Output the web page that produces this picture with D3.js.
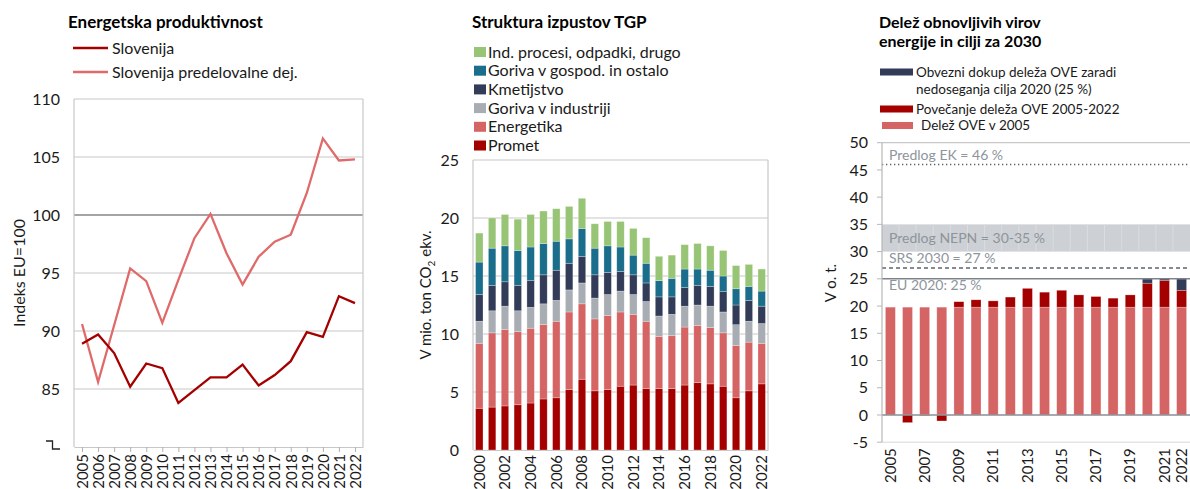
<!DOCTYPE html>
<html><head><meta charset="utf-8">
<script src="https://cdn.jsdelivr.net/npm/d3@7"></script>
<style>
body{margin:0;background:#fff;}
svg{display:block;font-family:Lato,"Open Sans",sans-serif;}
</style></head><body>
<svg id="c" width="1190" height="489"></svg>
<script>
// ---------- DATA ----------
// Chart 1: Energetska produktivnost
const years1 = [2005,2006,2007,2008,2009,2010,2011,2012,2013,2014,2015,2016,2017,2018,2019,2020,2021,2022];
const slovenija = [88.9,89.7,88.1,85.2,87.2,86.8,83.8,84.9,86.0,86.0,87.1,85.3,86.2,87.4,89.9,89.5,93.0,92.4];
const slovenijaPred = [90.6,85.6,90.5,95.4,94.3,90.7,94.4,98.0,100.1,96.7,94.0,96.4,97.7,98.3,101.9,106.6,104.7,104.8];
const yTicks1 = [85,90,95,100,105,110];
const seriesNames1 = ["Slovenija","Slovenija predelovalne dej."];

// Chart 2: Struktura izpustov TGP
const years2 = [2000,2001,2002,2003,2004,2005,2006,2007,2008,2009,2010,2011,2012,2013,2014,2015,2016,2017,2018,2019,2020,2021,2022];
const promet      = [3.6,3.7,3.8,3.9,4.05,4.4,4.5,5.2,6.1,5.1,5.2,5.5,5.6,5.3,5.3,5.3,5.6,5.8,5.7,5.5,4.5,5.1,5.7];
const energetika  = [5.6,6.4,6.6,6.3,6.45,6.4,6.6,6.7,6.5,6.2,6.4,6.4,6.1,5.8,4.5,4.55,5.0,4.95,4.85,4.6,4.5,4.2,3.5];
const gorivaInd   = [1.9,1.9,2.0,1.8,1.8,1.8,1.8,1.9,1.8,1.8,1.8,1.8,1.7,1.7,1.75,1.85,1.8,1.75,1.85,1.8,1.8,1.8,1.7];
const kmetijstvo  = [2.3,2.2,2.1,2.2,2.3,2.5,2.6,2.3,2.3,2.0,1.9,1.7,1.7,1.6,1.65,1.5,1.6,1.7,1.7,1.75,1.7,1.8,1.5];
const gorivaGosp  = [2.8,3.2,3.1,3.0,2.9,2.7,2.5,2.1,2.4,2.3,2.3,2.1,1.7,1.7,1.4,1.6,1.6,1.4,1.4,1.35,1.4,1.2,1.3];
const indProcesi  = [2.5,2.6,2.7,2.7,2.8,2.8,2.8,2.8,2.6,2.1,2.1,2.2,2.3,2.2,2.1,2.0,2.1,2.2,2.1,2.2,2.0,1.9,1.9];
const yTicks2 = [0,5,10,15,20,25];
const xLabels2 = [2000,2002,2004,2006,2008,2010,2012,2014,2016,2018,2020,2022];
const keys2 = ["promet","energetika","gorivaInd","kmetijstvo","gorivaGosp","indProcesi"];
const legend2 = ["Ind. procesi, odpadki, drugo","Goriva v gospod. in ostalo","Kmetijstvo","Goriva v industriji","Energetika","Promet"];

// Chart 3: Delež OVE
const years3 = [2005,2006,2007,2008,2009,2010,2011,2012,2013,2014,2015,2016,2017,2018,2019,2020,2021,2022];
const delez2005 = [19.8,19.8,19.8,19.8,19.8,19.8,19.8,19.8,19.8,19.8,19.8,19.8,19.8,19.8,19.8,19.8,19.8,19.8];
const povecanje = [0,-1.4,-0.1,-1.1,1.0,1.35,1.15,1.85,3.45,2.75,3.1,2.25,1.95,1.65,2.25,4.4,4.9,3.1];
const dokup     = [0,0,0,0,0,0,0,0,0,0,0,0,0,0,0,0.8,0.3,2.1];
const yTicks3 = [-5,0,5,10,15,20,25,30,35,40,45,50];
const xLabels3 = [2005,2007,2009,2011,2013,2015,2017,2019,2021,2022];
const legend3 = [["Obvezni dokup deleža OVE zaradi","nedoseganja cilja 2020 (25 %)"],["Povečanje deleža OVE 2005-2022"],["Delež OVE v 2005"]];
const targetEK = 46, targetNEPN = [30,35], targetSRS = 27, targetEU = 25;

// ---------- STYLE ----------
const C = {dark:"#a50000", light:"#e06a6a", salmon:"#d56565", grey:"#a8adb3", navy:"#323b58", teal:"#1b6e8b", green:"#98c575", grid:"#c8c8c8", txt:"#1a1a1a", ref:"#8e949b"};
const svg = d3.select("#c");

function rotLabels(sel, off){
  sel.selectAll("text").attr("transform","rotate(-90)").attr("x",-off).attr("y",0)
     .attr("dy","0.35em").style("text-anchor","end");
}

// ================= CHART 1 =================
{
  const g = svg.append("g");
  const x = d3.scalePoint().domain(years1).range([74,363]).padding(0.5);
  const y = d3.scaleLinear().domain([80,110]).range([447,99]);
  yTicks1.filter(t=>t!==100).forEach(t=>{
    g.append("line").attr("x1",74).attr("x2",363).attr("y1",y(t)).attr("y2",y(t)).attr("stroke",C.grid).attr("stroke-width",1.2);
  });
  g.append("line").attr("x1",74).attr("x2",363).attr("y1",y(100)).attr("y2",y(100)).attr("stroke","#4a4a4a").attr("stroke-width",1.2);
  g.append("line").attr("x1",74).attr("x2",74).attr("y1",y(110)).attr("y2",y(80)).attr("stroke",C.grid).attr("stroke-width",1.2);
  g.append("line").attr("x1",363).attr("x2",363).attr("y1",y(110)).attr("y2",y(80)).attr("stroke",C.grid).attr("stroke-width",1.2);
  const xa = g.append("g").attr("transform","translate(0,447)").call(d3.axisBottom(x).tickSize(5).tickSizeOuter(0));
  xa.select(".domain").attr("stroke",C.grid).attr("stroke-width",1.2);
  xa.selectAll(".tick line").attr("stroke","#b0b0b0");
  xa.selectAll("text").attr("font-size",15).attr("fill",C.txt).attr("font-family","Lato");
  rotLabels(xa, 7);
  yTicks1.forEach(t=>{
    g.append("text").attr("x",60).attr("y",y(t)).attr("dy","0.35em").attr("text-anchor","end").attr("font-size",16).attr("fill",C.txt).text(t);
  });
  g.append("path").attr("d","M46,441 H52.5 V449 H60").attr("fill","none").attr("stroke","#222").attr("stroke-width",1.3);
  const line = d3.line().x((d,i)=>x(years1[i])).y(d=>y(d));
  g.append("path").datum(slovenijaPred).attr("d",line).attr("fill","none").attr("stroke",C.light).attr("stroke-width",2.3);
  g.append("path").datum(slovenija).attr("d",line).attr("fill","none").attr("stroke",C.dark).attr("stroke-width",2.3);
  g.append("text").attr("transform","translate(25,273) rotate(-90)").attr("text-anchor","middle").attr("font-size",16).attr("fill",C.txt).text("Indeks EU=100");
  g.append("text").attr("x",68).attr("y",28).attr("font-size",17).attr("font-weight","bold").attr("fill","#000").text("Energetska produktivnost");
  [[C.dark,48],[C.light,72]].forEach((d,i)=>{
    g.append("line").attr("x1",73).attr("x2",108).attr("y1",d[1]).attr("y2",d[1]).attr("stroke",d[0]).attr("stroke-width",2.3);
    g.append("text").attr("x",112).attr("y",d[1]+6).attr("font-size",16).attr("fill",C.txt).text(seriesNames1[i]);
  });
}

// ================= CHART 2 =================
{
  const g = svg.append("g");
  const x = d3.scaleBand().domain(years2).range([473,768]).paddingInner(0.42).paddingOuter(0.2);
  const y = d3.scaleLinear().domain([0,25]).range([450,160]);
  yTicks2.filter(t=>t>0).forEach(t=>{
    g.append("line").attr("x1",473).attr("x2",768).attr("y1",y(t)).attr("y2",y(t)).attr("stroke",C.grid).attr("stroke-width",1.2);
  });
  g.append("line").attr("x1",473).attr("x2",473).attr("y1",y(25)).attr("y2",y(0)).attr("stroke",C.grid).attr("stroke-width",1.2);
  g.append("line").attr("x1",768).attr("x2",768).attr("y1",y(25)).attr("y2",y(0)).attr("stroke",C.grid).attr("stroke-width",1.2);
  const cols = {promet:C.dark, energetika:C.salmon, gorivaInd:C.grey, kmetijstvo:C.navy, gorivaGosp:C.teal, indProcesi:C.green};
  const src = {promet, energetika, gorivaInd, kmetijstvo, gorivaGosp, indProcesi};
  const table = years2.map((yr,i)=>{const r={year:yr}; keys2.forEach(k=>r[k]=src[k][i]); return r;});
  const stacked = d3.stack().keys(keys2)(table);
  stacked.forEach(s=>{
    g.append("g").selectAll("rect").data(s).join("rect")
      .attr("x",d=>x(d.data.year)).attr("width",x.bandwidth())
      .attr("y",d=>y(d[1])).attr("height",d=>y(d[0])-y(d[1]))
      .attr("fill",cols[s.key]).attr("stroke","rgba(255,255,255,0.45)").attr("stroke-width",0.6);
  });
  const xa = g.append("g").attr("transform","translate(0,450)").call(d3.axisBottom(x).tickValues(xLabels2).tickSize(0).tickSizeOuter(0));
  xa.select(".domain").attr("stroke",C.grid).attr("stroke-width",1.2);
  xa.selectAll("text").attr("font-size",15).attr("fill",C.txt).attr("font-family","Lato");
  rotLabels(xa, 5);
  yTicks2.forEach(t=>{
    g.append("text").attr("x",459).attr("y",y(t)).attr("dy","0.35em").attr("text-anchor","end").attr("font-size",16).attr("fill",C.txt).text(t);
  });
  const yl = g.append("text").attr("transform","translate(431,295) rotate(-90)").attr("text-anchor","middle").attr("font-size",15).attr("fill",C.txt);
  yl.append("tspan").text("V mio. ton CO");
  yl.append("tspan").attr("font-size",10).attr("dy",4).text("2");
  yl.append("tspan").attr("dy",-4).text(" ekv.");
  g.append("text").attr("x",472).attr("y",28).attr("font-size",17).attr("font-weight","bold").attr("fill","#000").text("Struktura izpustov TGP");
  const legCols = [C.green,C.teal,C.navy,C.grey,C.salmon,C.dark];
  legend2.forEach((t,i)=>{
    const cy = 52 + i*18.7;
    g.append("rect").attr("x",474).attr("y",cy-5).attr("width",12).attr("height",10).attr("fill",legCols[i]);
    g.append("text").attr("x",488).attr("y",cy+5.5).attr("font-size",16).attr("fill",C.txt).text(t);
  });
}

// ================= CHART 3 =================
{
  const g = svg.append("g");
  const x = d3.scaleBand().domain(years3).range([882,1190]).paddingInner(0.42).paddingOuter(0.2);
  const y = d3.scaleLinear().domain([-5,50]).range([442.2,142.7]);
  // NEPN band
  g.append("rect").attr("x",882).attr("width",1190-882).attr("y",y(targetNEPN[1])).attr("height",y(targetNEPN[0])-y(targetNEPN[1])).attr("fill","#cdd0d4");
  const gap = x.step()-x.bandwidth();
  years3.slice(1).forEach(yr=>{
    const bx = x(yr)-gap/2;
    g.append("line").attr("x1",bx).attr("x2",bx).attr("y1",y(targetNEPN[1])).attr("y2",y(targetNEPN[0])).attr("stroke","#dadde0").attr("stroke-width",1);
  });
  g.append("line").attr("x1",882).attr("x2",1190).attr("y1",y(50)).attr("y2",y(50)).attr("stroke",C.grid).attr("stroke-width",1.2);
  g.append("line").attr("x1",882).attr("x2",1190).attr("y1",y(-5)).attr("y2",y(-5)).attr("stroke","#d8d8d8").attr("stroke-width",1);
  // bars
  const bar = (y0,y1,col,i)=> g.append("rect").attr("x",x(years3[i])).attr("width",x.bandwidth())
      .attr("y",y(Math.max(y0,y1))).attr("height",Math.abs(y(y0)-y(y1))).attr("fill",col)
      .attr("stroke","rgba(255,255,255,0.4)").attr("stroke-width",0.6);
  years3.forEach((yr,i)=>{
    bar(0,delez2005[i],C.salmon,i);
    if(povecanje[i]<0) bar(0,povecanje[i],C.dark,i);
    else if(povecanje[i]>0) bar(delez2005[i],delez2005[i]+povecanje[i],C.dark,i);
    if(dokup[i]>0){const b=delez2005[i]+Math.max(0,povecanje[i]); bar(b,b+dokup[i],C.navy,i);}
  });
  // reference lines
  g.append("line").attr("x1",882).attr("x2",1190).attr("y1",y(targetEK)).attr("y2",y(targetEK)).attr("stroke","#555c66").attr("stroke-width",1.3).attr("stroke-dasharray","1.3,2.7");
  g.append("line").attr("x1",882).attr("x2",1190).attr("y1",y(targetSRS)).attr("y2",y(targetSRS)).attr("stroke","#5f6670").attr("stroke-width",1.5).attr("stroke-dasharray","4,3");
  g.append("line").attr("x1",882).attr("x2",1190).attr("y1",y(targetEU)).attr("y2",y(targetEU)).attr("stroke","#7c838c").attr("stroke-width",1.5);
  g.append("line").attr("x1",882).attr("x2",1190).attr("y1",y(0)).attr("y2",y(0)).attr("stroke","#8a8f96").attr("stroke-width",1.5);
  const refT = (txt,v,dy)=> g.append("text").attr("x",889).attr("y",y(v)+dy).attr("font-size",14).attr("fill",C.ref).text(txt);
  refT("Predlog EK = 46 %",targetEK,-4);
  refT("Predlog NEPN = 30-35 %",targetNEPN[0],-9);
  refT("SRS 2030 = 27 %",targetSRS,-5);
  refT("EU 2020: 25 %",targetEU,11);
  // axes
  g.append("line").attr("x1",882).attr("x2",882).attr("y1",y(50)).attr("y2",y(-5)).attr("stroke","#b8b8b8").attr("stroke-width",1.2);
  yTicks3.forEach(t=>{
    g.append("line").attr("x1",877).attr("x2",882).attr("y1",y(t)).attr("y2",y(t)).attr("stroke","#b8b8b8");
    g.append("text").attr("x",868).attr("y",y(t)).attr("dy","0.35em").attr("text-anchor","end").attr("font-size",16).attr("fill",C.txt).text(t);
  });
  const xa = g.append("g").attr("transform","translate(0,442.2)").call(d3.axisBottom(x).tickValues(xLabels3).tickSize(0).tickSizeOuter(0));
  xa.select(".domain").remove();
  xa.selectAll("text").attr("font-size",15).attr("fill",C.txt).attr("font-family","Lato");
  rotLabels(xa, 6);
  g.append("text").attr("transform","translate(836,283) rotate(-90)").attr("text-anchor","middle").attr("font-size",15).attr("fill",C.txt).text("V o. t.");
  g.append("text").attr("x",879).attr("y",28).attr("font-size",16).attr("font-weight","bold").attr("fill","#000").text("Delež obnovljivih virov");
  g.append("text").attr("x",879).attr("y",47).attr("font-size",16).attr("font-weight","bold").attr("fill","#000").text("energije in cilji za 2030");
  const legCols = [C.navy,C.dark,C.salmon];
  const rows = [[72,916,77],[109,916,113.5],[125.5,921,130]];
  legend3.forEach((lines,i)=>{
    const r = rows[i];
    g.append("rect").attr("x",i===2?882:880).attr("y",r[0]-3.5).attr("width",i===2?31:33).attr("height",7).attr("fill",legCols[i]);
    lines.forEach((t,j)=>{
      g.append("text").attr("x",r[1]).attr("y",r[2]+j*17).attr("font-size",13.5).attr("fill",C.txt).text(t);
    });
  });
}
</script></body></html>
